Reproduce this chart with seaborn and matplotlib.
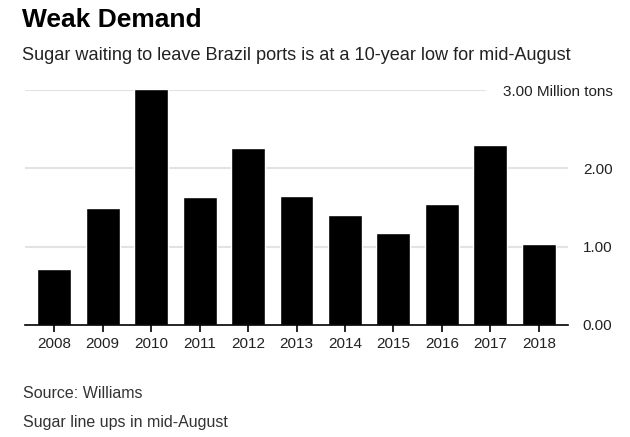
import matplotlib
matplotlib.use("Agg")
import matplotlib.pyplot as plt
import seaborn as sns
import pandas as pd

years = ["2008", "2009", "2010", "2011", "2012", "2013", "2014", "2015", "2016", "2017", "2018"]
values = [0.72, 1.50, 3.01, 1.64, 2.26, 1.65, 1.40, 1.18, 1.55, 2.30, 1.03]
ytick_vals = [0.0, 1.0, 2.0, 3.0]
ytick_labels = ["0.00", "1.00", "2.00", "3.00 Million tons"]

sns.set_theme(style="white")
plt.rcParams['font.family'] = ['Liberation Sans', 'DejaVu Sans']

df = pd.DataFrame({"year": years, "value": values})

fig = plt.figure(figsize=(6.3, 4.37), dpi=100)
ax = fig.add_axes([25/630, 1 - 325/437, (568-25)/630, (325-90)/437])

sns.barplot(data=df, x="year", y="value", color="black", width=0.7, ax=ax, saturation=1)

ax.set_xlim(-0.6, 10.6)
ax.set_ylim(0, 3.0)
for y in ytick_vals[1:]:
    xmax = (485-25)/(568-25) if y == 3.0 else 1.0
    ax.axhline(y, xmin=0, xmax=xmax, color="#e3e3e3", lw=1.5, zorder=0)

for s in ["top", "right", "left"]:
    ax.spines[s].set_visible(False)
ax.spines["bottom"].set_color("black")
ax.spines["bottom"].set_linewidth(1.2)

ax.set_xlabel("")
ax.set_ylabel("")
ax.tick_params(axis="x", bottom=True, length=5, width=1.2, color="black", labelsize=11, pad=4, labelcolor="#222222")
ax.yaxis.tick_right()
ax.set_yticks(ytick_vals)
ax.set_yticklabels(ytick_labels)
ax.tick_params(axis="y", right=False, left=False, labelsize=11, pad=26, labelcolor="#222222")
for lab in ax.get_yticklabels():
    lab.set_horizontalalignment("right")

fig.text(22/630, 1 - 20/437, "Weak Demand", fontsize=19, fontweight="bold", va="center", ha="left", color="black")
fig.text(22/630, 1 - 55/437, "Sugar waiting to leave Brazil ports is at a 10-year low for mid-August",
         fontsize=13.1, va="center", ha="left", color="#222222")
fig.text(23/630, 1 - 394/437, "Source: Williams", fontsize=11.5, va="center", ha="left", color="#333333")
fig.text(23/630, 1 - 422/437, "Sugar line ups in mid-August", fontsize=11.5, va="center", ha="left", color="#333333")

fig.savefig("out.png", dpi=100, facecolor="white")
